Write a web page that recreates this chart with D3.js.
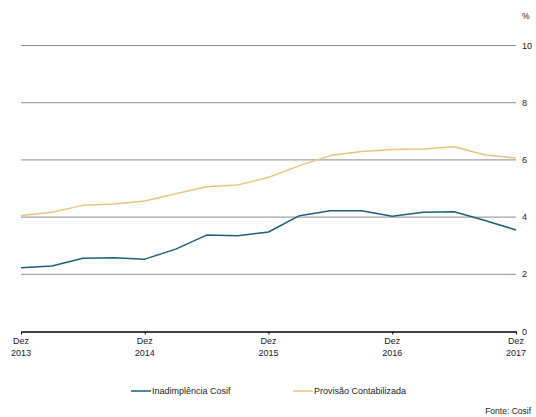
<!DOCTYPE html>
<html>
<head>
<meta charset="utf-8">
<script src="https://cdn.jsdelivr.net/npm/d3@7"></script>
<style>
  html, body { margin: 0; padding: 0; background: #fff; }
  svg { display: block; font-family: "Liberation Sans", Arial, sans-serif; }
</style>
</head>
<body>
<svg id="chart" width="536" height="417"></svg>
<script>
// Quarterly observations, Dez 2013 .. Dez 2017
const quarters = d3.range(17);
const inadimplencia = [2.23, 2.29, 2.56, 2.58, 2.53, 2.88, 3.37, 3.35, 3.48, 4.05, 4.22, 4.22, 4.03, 4.17, 4.19, 3.88, 3.55];
const provisao = [4.06, 4.17, 4.41, 4.46, 4.56, 4.82, 5.06, 5.12, 5.39, 5.80, 6.15, 6.29, 6.36, 6.38, 6.46, 6.17, 6.07];
const yearTicks = [0, 4, 8, 12, 16];
const yearLabels = ["2013", "2014", "2015", "2016", "2017"];
const yTicks = [0, 2, 4, 6, 8, 10];
const seriesNames = ["Inadimplência Cosif", "Provisão Contabilizada"];
const seriesColors = ["#1d6179", "#e9c57b"];

const svg = d3.select("#chart");
const x = d3.scaleLinear().domain([0, 16]).range([21, 516]);
const y = d3.scaleLinear().domain([0, 10]).range([331.5, 45.5]);

// horizontal gridlines
svg.append("g")
  .selectAll("line")
  .data(yTicks.filter(d => d > 0))
  .join("line")
  .attr("x1", x(0)).attr("x2", x(16))
  .attr("y1", d => y(d)).attr("y2", d => y(d))
  .attr("stroke", "#8c8c8c").attr("stroke-width", 1);

// right-hand value labels
svg.append("g")
  .selectAll("text")
  .data(yTicks)
  .join("text")
  .attr("x", 522).attr("y", d => y(d) + 3)
  .attr("font-size", 9).attr("fill", "#222")
  .text(d => d);

svg.append("text")
  .attr("x", 522).attr("y", 19)
  .attr("font-size", 8.5).attr("fill", "#222")
  .text("%");

// baseline with year ticks
const xAxis = d3.axisBottom(x)
  .tickValues(yearTicks)
  .tickSize(3)
  .tickSizeOuter(0)
  .tickFormat("");
const gx = svg.append("g").attr("transform", `translate(0,${y(0)})`).call(xAxis);
gx.select(".domain").attr("stroke", "#000").attr("stroke-width", 1.5);
gx.selectAll(".tick line").attr("stroke", "#000").attr("stroke-width", 1);

const labels = svg.append("g")
  .selectAll("text")
  .data(yearTicks)
  .join("text")
  .attr("text-anchor", "middle")
  .attr("font-size", 9).attr("fill", "#222");
labels.append("tspan").attr("x", d => x(d)).attr("y", 344).text("Dez");
labels.append("tspan").attr("x", d => x(d)).attr("y", 356).text((d, i) => yearLabels[i]);

// series lines
const line = d3.line().x((d, i) => x(quarters[i])).y(d => y(d));
[provisao, inadimplencia].forEach((vals, k) => {
  svg.append("path")
    .datum(vals)
    .attr("fill", "none")
    .attr("stroke", k === 0 ? seriesColors[1] : seriesColors[0])
    .attr("stroke-width", 1.5)
    .attr("stroke-linejoin", "round")
    .attr("d", line);
});

// legend
const legendX = [131, 293];
const legend = svg.append("g")
  .selectAll("g")
  .data(seriesNames)
  .join("g")
  .attr("transform", (d, i) => `translate(${legendX[i]},391)`);
legend.append("line")
  .attr("x1", 0).attr("x2", 20).attr("y1", 0).attr("y2", 0)
  .attr("stroke", (d, i) => seriesColors[i]).attr("stroke-width", 1.5);
legend.append("text")
  .attr("x", 21).attr("y", 3)
  .attr("font-size", 9).attr("fill", "#222")
  .text(d => d);

svg.append("text")
  .attr("x", 531).attr("y", 414)
  .attr("text-anchor", "end")
  .attr("font-size", 8.5).attr("fill", "#222")
  .text("Fonte: Cosif");
</script>
</body>
</html>
